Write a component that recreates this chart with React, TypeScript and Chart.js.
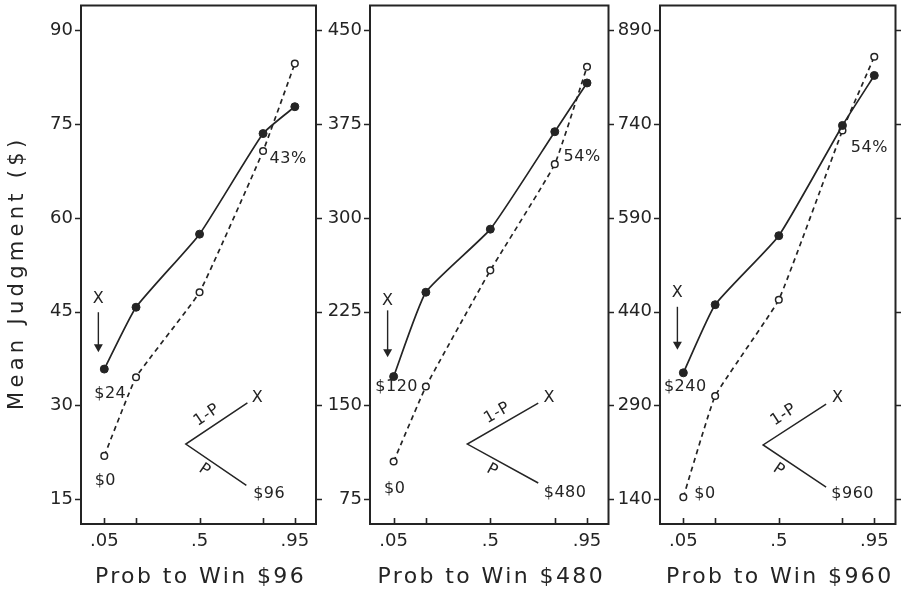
import React, { useEffect, useRef } from 'react';
import { Chart, registerables } from 'chart.js';

Chart.register(...registerables);

const INK = '#242424';
const FONT = '"DejaVu Sans", "Liberation Sans", sans-serif';

// probability levels (x values) and tick marks
const probs = [0.05, 0.2, 0.5, 0.8, 0.95];
const xTickMarks = [0.05, 0.2, 0.5, 0.8, 0.95];
const xTickValues = [0.05, 0.5, 0.95];
const xTickLabels = ['.05', '.5', '.95'];

// Panel 1: win $96
const p1Filled = [35.8, 45.7, 57.4, 73.5, 77.8]; // X = $24
const p1Open = [21.9, 34.5, 48.1, 70.7, 84.7]; // X = $0
const p1YTicks = [15, 30, 45, 60, 75, 90];
const p1YRange = [11, 94];

// Panel 2: win $480
const p2Filled = [173, 240.5, 291, 369, 408]; // X = $120
const p2Open = [105, 165, 258, 343, 421]; // X = $0
const p2YTicks = [75, 150, 225, 300, 375, 450];
const p2YRange = [55, 470];

// Panel 3: win $960
const p3Filled = [342, 451, 561.5, 738, 818]; // X = $240
const p3Open = [143, 305, 459, 730, 848]; // X = $0
const p3YTicks = [140, 290, 440, 590, 740, 890];
const p3YRange = [100, 930];

const xTitles = ['Prob to Win $96', 'Prob to Win $480', 'Prob to Win $960'];
const yTitle = 'Mean Judgment ($)';

type Note = { t: string; x: number; y: number };
type Annot = {
  arrow: { x: number; from: number; to: number };
  notes: Note[];
  tree: { v: [number, number]; up: [number, number]; lo: [number, number] };
  upLabel: Note;
  loLabel: Note;
};

const annots: Annot[] = [
  {
    arrow: { x: 0.022, from: 44.9, to: 38.5 },
    notes: [
      { t: 'X', x: 0.022, y: 47.1 },
      { t: '$24', x: 0.078, y: 31.9 },
      { t: '$0', x: 0.055, y: 17.9 },
      { t: '43%', x: 0.918, y: 69.5 },
      { t: 'X', x: 0.773, y: 31.2 },
      { t: '$96', x: 0.829, y: 15.8 },
    ],
    tree: { v: [0.435, 23.8], up: [0.726, 30.4], lo: [0.721, 17.2] },
    upLabel: { t: '1-P', x: 0.534, y: 28.4 },
    loLabel: { t: 'P', x: 0.524, y: 19.6 },
  },
  {
    arrow: { x: 0.022, from: 226, to: 188.5 },
    notes: [
      { t: 'X', x: 0.022, y: 234 },
      { t: '$120', x: 0.064, y: 164.5 },
      { t: '$0', x: 0.055, y: 83 },
      { t: '54%', x: 0.927, y: 348.5 },
      { t: 'X', x: 0.774, y: 155.7 },
      { t: '$480', x: 0.848, y: 79.8 },
    ],
    tree: { v: [0.393, 119], up: [0.723, 151.7], lo: [0.723, 87.8] },
    upLabel: { t: '1-P', x: 0.532, y: 143.8 },
    loLabel: { t: 'P', x: 0.509, y: 98 },
  },
  {
    arrow: { x: 0.022, from: 447.7, to: 379 },
    notes: [
      { t: 'X', x: 0.022, y: 470 },
      { t: '$240', x: 0.059, y: 319.5 },
      { t: '$0', x: 0.152, y: 148 },
      { t: '54%', x: 0.927, y: 702.5 },
      { t: 'X', x: 0.778, y: 302 },
      { t: '$960', x: 0.848, y: 148 },
    ],
    tree: { v: [0.426, 226.5], up: [0.723, 292], lo: [0.723, 159] },
    upLabel: { t: '1-P', x: 0.523, y: 274.6 },
    loLabel: { t: 'P', x: 0.5, y: 186.5 },
  },
];

const panels = [
  { filled: p1Filled, open: p1Open, yTicks: p1YTicks, yRange: p1YRange, hiLabel: 'X = $24', left: 0, width: 322, yW: 81, rPad: 6 },
  { filled: p2Filled, open: p2Open, yTicks: p2YTicks, yRange: p2YRange, hiLabel: 'X = $120', left: 322, width: 292, yW: 48, rPad: 5 },
  { filled: p3Filled, open: p3Open, yTicks: p3YTicks, yRange: p3YRange, hiLabel: 'X = $240', left: 614, width: 287, yW: 46, rPad: 5 },
];

const zeroPad = (s: any) => {
  s.paddingTop = 0;
  s.paddingBottom = 0;
  s.paddingLeft = 0;
  s.paddingRight = 0;
};

const decoPlugin = {
  id: 'deco',
  afterDraw(chart: any, _args: any, opts: any) {
    const { ctx, chartArea: a } = chart;
    const x = chart.scales.x;
    const y = chart.scales.y;
    const an: Annot = opts.annot;
    ctx.save();
    ctx.strokeStyle = INK;
    ctx.fillStyle = INK;
    ctx.lineWidth = 2;
    ctx.strokeRect(a.left, a.top, a.right - a.left, a.bottom - a.top);
    ctx.lineWidth = 1.6;
    ctx.beginPath();
    for (const v of opts.yTicks) {
      const py = Math.round(y.getPixelForValue(v)) + 0.5;
      ctx.moveTo(a.left - 6, py);
      ctx.lineTo(a.left, py);
      ctx.moveTo(a.right, py);
      ctx.lineTo(a.right + 6, py);
    }
    for (const p of xTickMarks) {
      const px = Math.round(x.getPixelForValue(p)) + 0.5;
      ctx.moveTo(px, a.bottom);
      ctx.lineTo(px, a.bottom - 6);
    }
    ctx.stroke();

    // axis titles
    ctx.textAlign = 'center';
    ctx.textBaseline = 'alphabetic';
    ctx.font = `22px ${FONT}`;
    (ctx as any).letterSpacing = '2.4px';
    ctx.fillText(opts.xTitle, (a.left + a.right) / 2 + 2, a.bottom + 59);
    if (opts.yTitle) {
      ctx.save();
      (ctx as any).letterSpacing = '4.3px';
      ctx.font = `21px ${FONT}`;
      ctx.translate(18, (a.top + a.bottom) / 2 + 8);
      ctx.rotate(-Math.PI / 2);
      ctx.textBaseline = 'middle';
      ctx.fillText(opts.yTitle, 0, 0);
      ctx.restore();
    }

    // annotations
    (ctx as any).letterSpacing = '0.5px';
    ctx.font = `16px ${FONT}`;
    ctx.textBaseline = 'middle';
    ctx.textAlign = 'center';
    for (const n of an.notes) {
      ctx.fillText(n.t, x.getPixelForValue(n.x), y.getPixelForValue(n.y));
    }
    // arrow
    const ax = x.getPixelForValue(an.arrow.x);
    const ay1 = y.getPixelForValue(an.arrow.from);
    const ay2 = y.getPixelForValue(an.arrow.to);
    ctx.lineWidth = 1.4;
    ctx.beginPath();
    ctx.moveTo(ax, ay1);
    ctx.lineTo(ax, ay2 - 6);
    ctx.stroke();
    ctx.beginPath();
    ctx.moveTo(ax - 4.5, ay2 - 8);
    ctx.lineTo(ax + 4.5, ay2 - 8);
    ctx.lineTo(ax, ay2);
    ctx.closePath();
    ctx.fill();
    // tree
    const vx = x.getPixelForValue(an.tree.v[0]);
    const vy = y.getPixelForValue(an.tree.v[1]);
    const ux = x.getPixelForValue(an.tree.up[0]);
    const uy = y.getPixelForValue(an.tree.up[1]);
    const lx = x.getPixelForValue(an.tree.lo[0]);
    const ly = y.getPixelForValue(an.tree.lo[1]);
    ctx.lineWidth = 1.5;
    ctx.beginPath();
    ctx.moveTo(ux, uy);
    ctx.lineTo(vx, vy);
    ctx.lineTo(lx, ly);
    ctx.stroke();
    const drawRot = (n: Note, ang: number) => {
      ctx.save();
      ctx.translate(x.getPixelForValue(n.x), y.getPixelForValue(n.y));
      ctx.rotate(ang);
      ctx.fillText(n.t, 0, 0);
      ctx.restore();
    };
    drawRot(an.upLabel, Math.atan2(uy - vy, ux - vx));
    drawRot(an.loLabel, Math.atan2(ly - vy, lx - vx));
    ctx.restore();
  },
};

function Panel({ idx }: { idx: number }) {
  const ref = useRef<HTMLCanvasElement>(null);
  const p = panels[idx];
  useEffect(() => {
    const chart = new Chart(ref.current as HTMLCanvasElement, {
      type: 'line',
      data: {
        datasets: [
          {
            label: p.hiLabel,
            data: probs.map((v, i) => ({ x: v, y: p.filled[i] })),
            borderColor: INK,
            borderWidth: 1.7,
            pointRadius: 4,
            pointBackgroundColor: INK,
            pointBorderColor: INK,
            pointBorderWidth: 1,
            tension: 0.15,
          },
          {
            label: 'X = $0',
            data: probs.map((v, i) => ({ x: v, y: p.open[i] })),
            borderColor: INK,
            borderWidth: 1.7,
            borderDash: [5, 4],
            pointRadius: 3.3,
            pointBackgroundColor: '#ffffff',
            pointBorderColor: INK,
            pointBorderWidth: 1.5,
            tension: 0.1,
          },
        ],
      },
      options: {
        responsive: false,
        maintainAspectRatio: false,
        animation: false,
        layout: { padding: { top: 5, right: p.rPad, left: 0, bottom: 0 } },
        plugins: {
          legend: { display: false },
          tooltip: { enabled: false },
          deco: {
            annot: annots[idx],
            yTicks: p.yTicks,
            xTitle: xTitles[idx],
            yTitle: idx === 0 ? yTitle : null,
          },
        } as any,
        scales: {
          x: {
            type: 'linear',
            min: -0.06,
            max: 1.05,
            grid: { display: false, drawTicks: false },
            border: { display: false },
            afterBuildTicks: (s: any) => {
              s.ticks = xTickValues.map((v) => ({ value: v }));
            },
            afterFit: (s: any) => {
              s.height = 67;
              zeroPad(s);
            },
            ticks: {
              color: INK,
              font: { family: FONT, size: 18 },
              padding: 7,
              maxRotation: 0,
              autoSkip: false,
              callback: (v: any) => {
                const i = xTickValues.indexOf(v);
                return i >= 0 ? xTickLabels[i] : '';
              },
            },
          },
          y: {
            type: 'linear',
            min: p.yRange[0],
            max: p.yRange[1],
            grid: { display: false, drawTicks: false },
            border: { display: false },
            afterBuildTicks: (s: any) => {
              s.ticks = p.yTicks.map((v) => ({ value: v }));
            },
            afterFit: (s: any) => {
              s.width = p.yW;
              zeroPad(s);
            },
            ticks: {
              color: INK,
              font: { family: FONT, size: 18 },
              padding: 8,
              autoSkip: false,
              callback: (v: any) => String(v),
            },
          },
        },
      } as any,
      plugins: [decoPlugin],
    });
    return () => chart.destroy();
  }, []);
  return (
    <canvas
      ref={ref}
      width={p.width}
      height={591}
      style={{ position: 'absolute', left: p.left, top: 0, width: p.width, height: 591 }}
    />
  );
}

export default function App() {
  return (
    <div style={{ position: 'absolute', left: 0, top: 0, width: 901, height: 591, background: '#ffffff' }}>
      <Panel idx={0} />
      <Panel idx={1} />
      <Panel idx={2} />
    </div>
  );
}
